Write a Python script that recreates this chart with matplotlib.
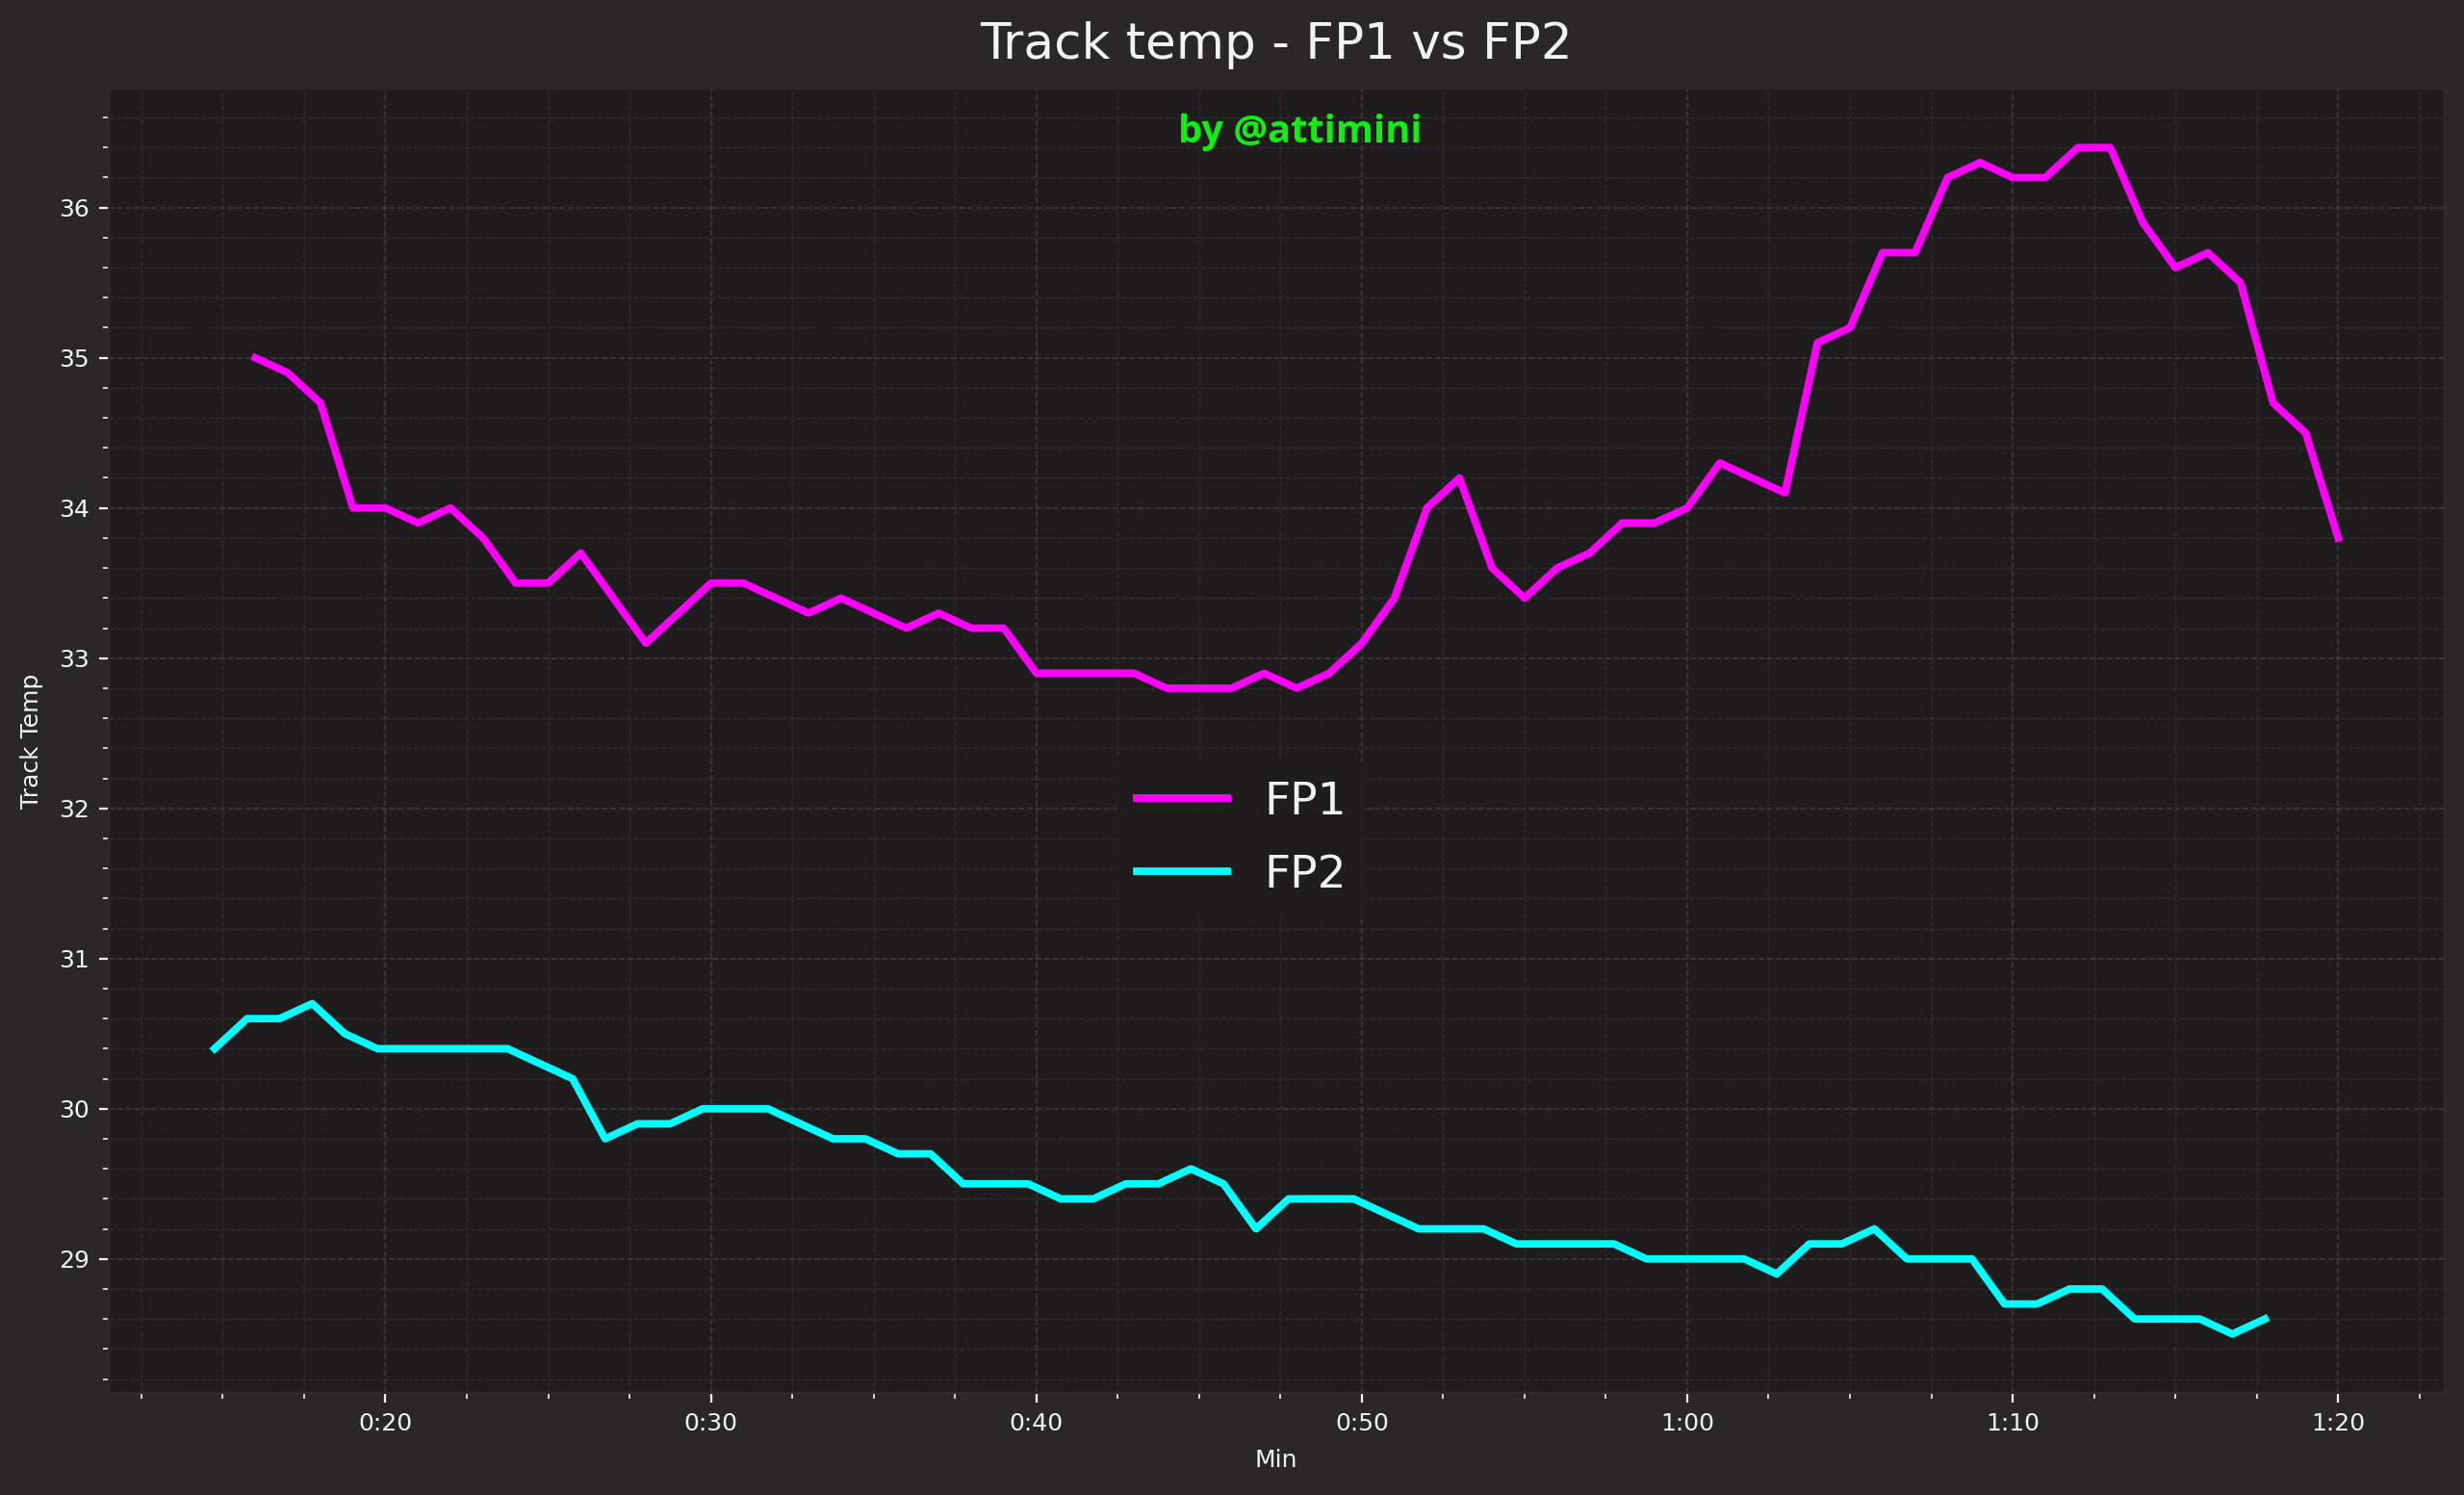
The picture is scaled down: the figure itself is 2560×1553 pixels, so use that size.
import numpy as np
import matplotlib
matplotlib.use("Agg")
import matplotlib.pyplot as plt
from matplotlib.ticker import MultipleLocator, FuncFormatter

# Track temperature per minute of session
fp1_temp = [35.0, 34.9, 34.7, 34.0, 34.0, 33.9, 34.0, 33.8, 33.5, 33.5,
            33.7, 33.4, 33.1, 33.3, 33.5, 33.5, 33.4, 33.3, 33.4, 33.3,
            33.2, 33.3, 33.2, 33.2, 32.9, 32.9, 32.9, 32.9, 32.8, 32.8,
            32.8, 32.9, 32.8, 32.9, 33.1, 33.4, 34.0, 34.2, 33.6, 33.4,
            33.6, 33.7, 33.9, 33.9, 34.0, 34.3, 34.2, 34.1, 35.1, 35.2,
            35.7, 35.7, 36.2, 36.3, 36.2, 36.2, 36.4, 36.4, 35.9, 35.6,
            35.7, 35.5, 34.7, 34.5, 33.8]
fp2_temp = [30.4, 30.6, 30.6, 30.7, 30.5, 30.4, 30.4, 30.4, 30.4, 30.4,
            30.3, 30.2, 29.8, 29.9, 29.9, 30.0, 30.0, 30.0, 29.9, 29.8,
            29.8, 29.7, 29.7, 29.5, 29.5, 29.5, 29.4, 29.4, 29.5, 29.5,
            29.6, 29.5, 29.2, 29.4, 29.4, 29.4, 29.3, 29.2, 29.2, 29.2,
            29.1, 29.1, 29.1, 29.1, 29.0, 29.0, 29.0, 29.0, 28.9, 29.1,
            29.1, 29.2, 29.0, 29.0, 29.0, 28.7, 28.7, 28.8, 28.8, 28.6,
            28.6, 28.6, 28.5, 28.6]

# samples once a minute, sessions start at different offsets
fp1_start = 16.0
fp2_start = 14.75
fp1_min = fp1_start + np.arange(len(fp1_temp))
fp2_min = fp2_start + np.arange(len(fp2_temp))

session_labels = ["FP1", "FP2"]
session_colors = ["#ff00ff", "#00ffff"]

text_col = "#f1f2f3"
plt.rcParams["font.family"] = ["DejaVu Sans"]

fig = plt.figure(figsize=(12.8, 7.765), dpi=200, facecolor="#292827")
ax = fig.add_axes([0.044, 0.068, 0.948, 0.873])
ax.set_facecolor("#1e1c1d")

ax.plot(fp1_min, fp1_temp, color=session_colors[0], lw=2.8, label=session_labels[0])
ax.plot(fp2_min, fp2_temp, color=session_colors[1], lw=2.8, label=session_labels[1])

ax.xaxis.set_major_locator(MultipleLocator(10))
ax.xaxis.set_minor_locator(MultipleLocator(2.5))
ax.yaxis.set_major_locator(MultipleLocator(1))
ax.yaxis.set_minor_locator(MultipleLocator(0.2))
ax.xaxis.set_major_formatter(FuncFormatter(lambda m, pos: f"{int(m // 60)}:{int(round(m % 60)):02d}"))

ax.grid(which="major", color="#3d3b3b", linestyle="--", linewidth=0.6)
ax.grid(which="minor", color="#2f2d2d", linestyle="--", linewidth=0.5)
ax.set_axisbelow(True)

ax.tick_params(which="both", colors=text_col, labelsize=9)
ax.tick_params(which="major", length=3.5, width=0.8)
ax.tick_params(which="minor", length=2, width=0.6)
for sp in ax.spines.values():
    sp.set_color("#2d2a29")

ax.set_xlabel("Min", color=text_col, fontsize=9, labelpad=5)
ax.set_ylabel("Track Temp", color=text_col, fontsize=9, labelpad=6)
ax.set_title("Track temp - FP1 vs FP2", color=text_col, fontsize=18.6, pad=11)

ax.text(0.51, 0.966, "by @attimini", transform=ax.transAxes, ha="center", va="center",
        color="#11ee11", fontsize=14.3, fontweight="bold", family=["Open Sans", "DejaVu Sans"])

leg = ax.legend(loc="center", bbox_to_anchor=(0.485, 0.425), fontsize=17,
                frameon=True, fancybox=False, handlelength=2.0, labelspacing=0.65)
leg.get_frame().set_facecolor("#1e1c1d")
leg.get_frame().set_edgecolor("#1e1c1d")
for t in leg.get_texts():
    t.set_color(text_col)

fig.savefig("out.png", dpi=200, facecolor=fig.get_facecolor())
